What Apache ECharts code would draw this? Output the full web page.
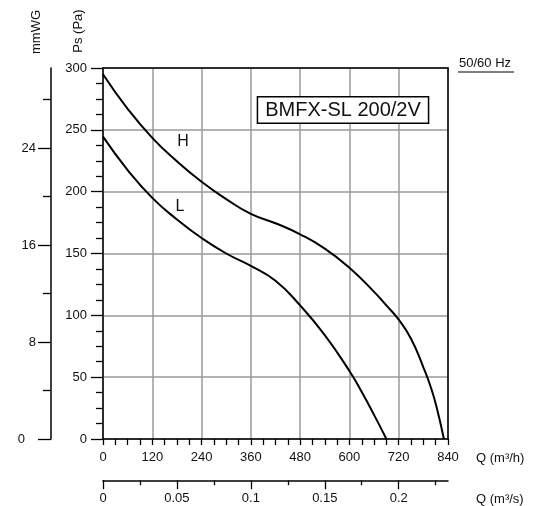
<!DOCTYPE html>
<html>
<head>
  <meta charset="UTF-8">
  <title>BMFX-SL 200/2V</title>
  <script src="https://cdn.jsdelivr.net/npm/echarts@6/dist/echarts.min.js"></script>
  <style>
    html, body, #main { margin: 0; padding: 0; width: 100%; height: 100%; background: #fff; }
  </style>
</head>
<body>
  <div id="main"></div>
  <script>
    // curve H / L : [Q m3/h, Ps Pa]
    const curveH = [[0, 295], [60, 267], [120, 243.5], [180, 224.5], [240, 208], [300, 194],
      [360, 182], [420, 174.5], [480, 165.5], [540, 154], [600, 138.5], [660, 119], [690, 108],
      [720, 96.5], [750, 81], [780, 58], [800, 40], [815, 22], [830, 0]];
    const curveL = [[0, 244.5], [60, 217.5], [120, 195], [180, 177.5], [240, 162.5], [300, 150],
      [360, 140], [420, 128], [480, 108], [540, 84], [600, 55], [630, 38], [660, 19.5], [690, 0]];

    const qTicks = [0, 120, 240, 360, 480, 600, 720, 840];   // m3/h
    const qsTicks = [0, 0.05, 0.1, 0.15, 0.2];               // m3/s
    const mmTicks = [0, 8, 16, 24];                          // mmWG
    const PA_PER_MM = 9.80665;

    const txt = '#111';
    const font = 'Liberation Sans, Arial, sans-serif';
    const chart = echarts.init(document.getElementById('main'));

    const blackLine = { show: true, onZero: false, lineStyle: { color: '#000', width: 1.5 } };

    chart.setOption({
      animation: false,
      textStyle: { fontFamily: font },
      grid: [
        { left: 103, right: 90, top: 68, bottom: 67 },
        { left: 103, right: 90, top: 480, bottom: 25 }
      ],
      xAxis: [
        {
          type: 'value', gridIndex: 0, position: 'bottom',
          min: 0, max: qTicks[qTicks.length - 1], interval: 120,
          axisLine: blackLine,
          axisTick: { show: true, inside: false, length: 6, lineStyle: { color: '#000', width: 1.3 } },
          minorTick: { show: true, splitNumber: 4, length: 6, lineStyle: { color: '#000', width: 1.3 } },
          axisLabel: { color: txt, fontSize: 13, margin: 12 },
          splitLine: { show: true, lineStyle: { color: '#9a9a9a', width: 1.5 } },
          name: 'Q (m³/h)', nameLocation: 'end', nameGap: 28,
          nameTextStyle: { color: txt, fontSize: 13, align: 'left', verticalAlign: 'top', padding: [13, 0, 0, 0] }
        },
        {
          type: 'value', gridIndex: 0, position: 'top', min: 0, max: 840,
          axisLine: blackLine, axisTick: { show: false }, axisLabel: { show: false }, splitLine: { show: false }
        },
        {
          type: 'value', gridIndex: 1, position: 'bottom',
          min: 0, max: 840 / 3600, interval: 0.05,
          axisLine: blackLine,
          axisTick: { show: true, length: 9, customValues: qsTicks, lineStyle: { color: '#000', width: 1.3 } },
          minorTick: { show: true, splitNumber: 2, length: 5, lineStyle: { color: '#000', width: 1.3 } },
          axisLabel: { color: txt, fontSize: 13, margin: 12, customValues: qsTicks },
          splitLine: { show: false },
          name: 'Q (m³/s)', nameLocation: 'end', nameGap: 28,
          nameTextStyle: { color: txt, fontSize: 13, align: 'left', verticalAlign: 'top', padding: [13, 0, 0, 0] }
        }
      ],
      yAxis: [
        {
          type: 'value', gridIndex: 0, position: 'left',
          min: 0, max: 300, interval: 50,
          axisLine: blackLine,
          axisTick: { show: true, length: 12, lineStyle: { color: '#000', width: 1.3 } },
          minorTick: { show: true, splitNumber: 4, length: 7, lineStyle: { color: '#000', width: 1.3 } },
          axisLabel: { color: txt, fontSize: 13, margin: 16 },
          splitLine: { show: true, lineStyle: { color: '#9a9a9a', width: 1.5 } }
        },
        {
          type: 'value', gridIndex: 0, position: 'left', offset: 52,
          min: 0, max: 300 / PA_PER_MM, interval: 8,
          axisLine: blackLine,
          axisTick: { show: true, length: 13, customValues: mmTicks, lineStyle: { color: '#000', width: 1.3 } },
          minorTick: { show: true, splitNumber: 2, length: 8, lineStyle: { color: '#000', width: 1.3 } },
          axisLabel: {
            color: txt, fontSize: 13, margin: 15, customValues: mmTicks,
            formatter: v => v === 0 ? '{z|0}' : String(v),
            rich: { z: { fontSize: 13, color: txt, padding: [0, 11, 0, 0] } }
          },
          splitLine: { show: false }
        },
        {
          type: 'value', gridIndex: 0, position: 'right', min: 0, max: 300,
          axisLine: blackLine, axisTick: { show: false }, axisLabel: { show: false }, splitLine: { show: false }
        },
        { type: 'value', gridIndex: 1, show: false }
      ],
      series: [
        {
          name: 'H', type: 'line', xAxisIndex: 0, yAxisIndex: 0, data: curveH,
          smooth: 0.5, symbol: 'none',
          lineStyle: { color: '#000', width: 2 }, z: 5
        },
        {
          name: 'L', type: 'line', xAxisIndex: 0, yAxisIndex: 0, data: curveL,
          smooth: 0.5, symbol: 'none',
          lineStyle: { color: '#000', width: 2 }, z: 5
        }
      ],
      graphic: [
        { type: 'text', x: 36, y: 32, rotation: Math.PI / 2,
          style: { text: 'mmWG', fill: txt, font: '13px ' + font, align: 'center', verticalAlign: 'middle' } },
        { type: 'text', x: 78, y: 31, rotation: Math.PI / 2,
          style: { text: 'Ps (Pa)', fill: txt, font: '13px ' + font, align: 'center', verticalAlign: 'middle' } },
        { type: 'text', x: 485, y: 63,
          style: { text: '50/60 Hz', fill: txt, font: '13px ' + font, align: 'center', verticalAlign: 'middle' } },
        { type: 'line', shape: { x1: 458, y1: 72, x2: 514, y2: 72 }, style: { stroke: '#000', lineWidth: 1.2 } },
        { type: 'text', x: 343, y: 110, z: 10,
          style: { text: 'BMFX-SL 200/2V', fill: '#111', font: '20px ' + font, align: 'center', verticalAlign: 'middle',
            backgroundColor: '#fff', borderColor: '#000', borderWidth: 1.5, padding: [3, 7, 2, 7] } },
        { type: 'text', x: 183, y: 142, z: 10,
          style: { text: 'H', fill: '#111', font: '16px ' + font, align: 'center', verticalAlign: 'middle' } },
        { type: 'text', x: 180, y: 207, z: 10,
          style: { text: 'L', fill: '#111', font: '16px ' + font, align: 'center', verticalAlign: 'middle' } }
      ]
    });
  </script>
</body>
</html>
